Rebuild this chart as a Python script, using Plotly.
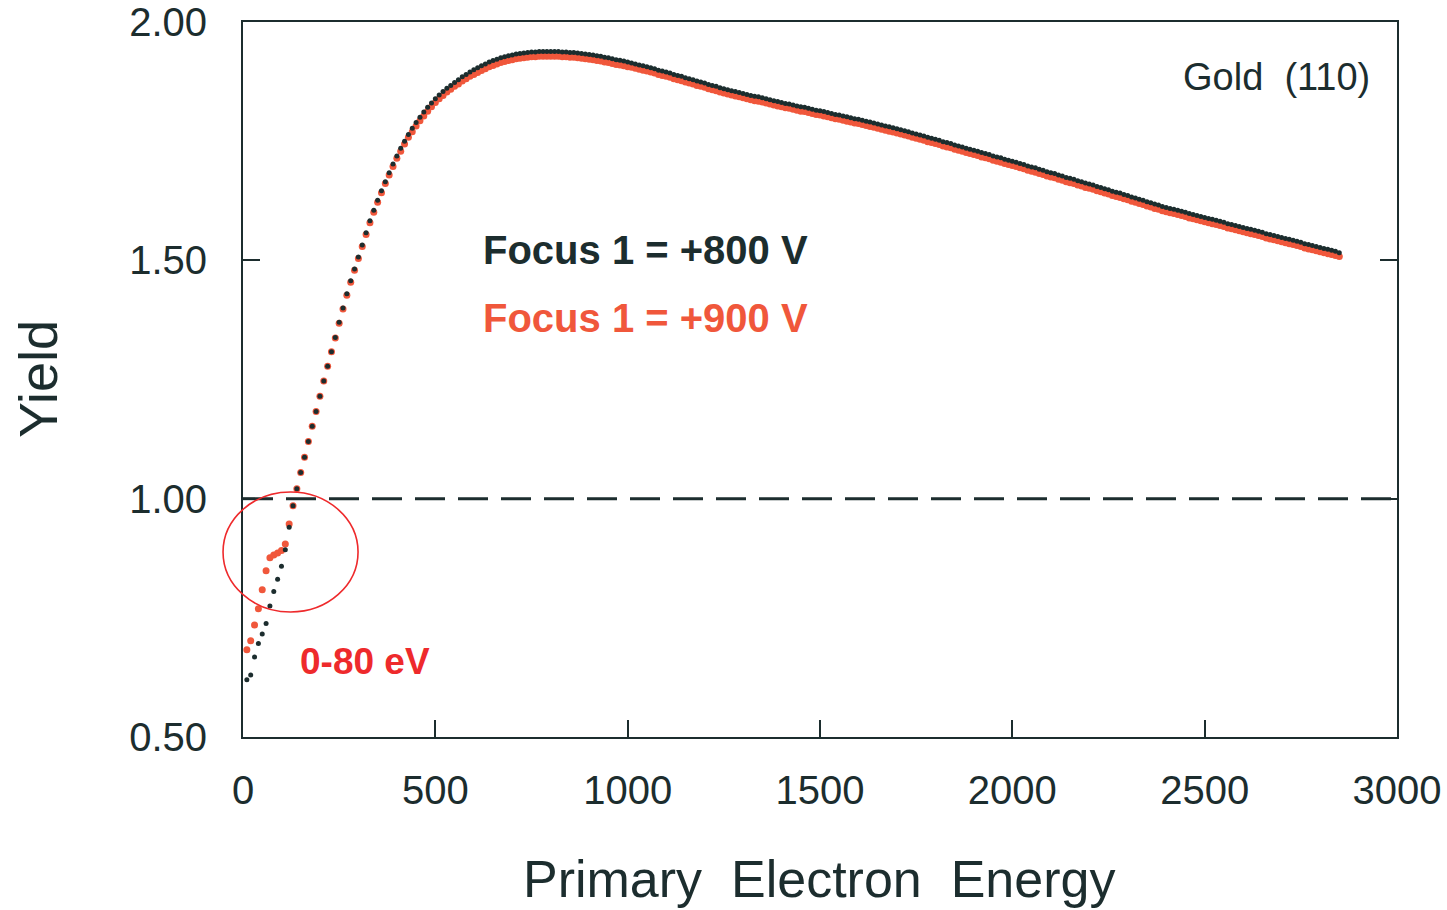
import plotly.graph_objects as go

# Primary electron energy grid (eV), 10 eV steps
energy = list(range(10, 2851, 10))

# Yield with Focus 1 = +800 V
yield_800 = [
    0.620, 0.630, 0.668, 0.696, 0.716, 0.738, 0.775, 0.805, 0.831, 0.858,
    0.893, 0.940, 0.985, 1.021, 1.055, 1.087, 1.120, 1.152, 1.183, 1.215,
    1.247, 1.278, 1.308, 1.338, 1.370, 1.400, 1.430, 1.457, 1.482, 1.507,
    1.532, 1.558, 1.583, 1.605, 1.626, 1.646, 1.665, 1.684, 1.702, 1.719,
    1.735, 1.750, 1.764, 1.777, 1.789, 1.800, 1.811, 1.821, 1.830, 1.839,
    1.847, 1.854, 1.861, 1.867, 1.873, 1.879, 1.885, 1.890, 1.895, 1.900,
    1.904, 1.908, 1.912, 1.916, 1.919, 1.922, 1.925, 1.927, 1.929, 1.931,
    1.933, 1.934, 1.935, 1.936, 1.937, 1.937, 1.938, 1.938, 1.938, 1.938,
    1.938, 1.938, 1.937, 1.937, 1.936, 1.936, 1.935, 1.934, 1.933, 1.932,
    1.931, 1.929, 1.928, 1.926, 1.925, 1.923, 1.921, 1.920, 1.918, 1.916,
    1.914, 1.912, 1.910, 1.908, 1.906, 1.904, 1.902, 1.899, 1.897, 1.895,
    1.893, 1.890, 1.888, 1.886, 1.883, 1.881, 1.879, 1.876, 1.874, 1.872,
    1.869, 1.867, 1.865, 1.862, 1.860, 1.858, 1.856, 1.854, 1.852, 1.850,
    1.848, 1.846, 1.844, 1.843, 1.841, 1.839, 1.837, 1.835, 1.833, 1.831,
    1.829, 1.828, 1.826, 1.824, 1.822, 1.821, 1.819, 1.817, 1.815, 1.814,
    1.812, 1.810, 1.808, 1.806, 1.805, 1.803, 1.801, 1.799, 1.797, 1.796,
    1.794, 1.792, 1.790, 1.788, 1.786, 1.784, 1.782, 1.780, 1.778, 1.776,
    1.774, 1.772, 1.770, 1.767, 1.765, 1.763, 1.761, 1.758, 1.756, 1.754,
    1.752, 1.749, 1.747, 1.745, 1.742, 1.740, 1.738, 1.735, 1.733, 1.731,
    1.729, 1.726, 1.724, 1.722, 1.719, 1.717, 1.715, 1.712, 1.710, 1.708,
    1.706, 1.703, 1.701, 1.698, 1.696, 1.694, 1.691, 1.689, 1.686, 1.684,
    1.682, 1.679, 1.677, 1.674, 1.672, 1.670, 1.667, 1.665, 1.662, 1.660,
    1.658, 1.655, 1.653, 1.650, 1.648, 1.645, 1.643, 1.641, 1.638, 1.636,
    1.633, 1.631, 1.628, 1.626, 1.623, 1.621, 1.618, 1.616, 1.613, 1.611,
    1.609, 1.607, 1.605, 1.603, 1.601, 1.598, 1.596, 1.594, 1.592, 1.590,
    1.588, 1.586, 1.584, 1.582, 1.580, 1.577, 1.575, 1.573, 1.571, 1.569,
    1.567, 1.565, 1.563, 1.561, 1.559, 1.556, 1.554, 1.552, 1.550, 1.548,
    1.546, 1.544, 1.542, 1.540, 1.538, 1.535, 1.533, 1.531, 1.529, 1.527,
    1.525, 1.523, 1.521, 1.519, 1.516,
]

# Yield with Focus 1 = +900 V
yield_900 = [
    0.683, 0.702, 0.735, 0.769, 0.809, 0.849, 0.876, 0.882, 0.886, 0.891,
    0.905, 0.947, 0.985, 1.021, 1.055, 1.087, 1.120, 1.152, 1.183, 1.215,
    1.247, 1.278, 1.308, 1.337, 1.368, 1.398, 1.427, 1.454, 1.479, 1.504,
    1.529, 1.554, 1.579, 1.601, 1.622, 1.642, 1.661, 1.679, 1.697, 1.714,
    1.729, 1.744, 1.758, 1.770, 1.782, 1.793, 1.803, 1.813, 1.822, 1.831,
    1.839, 1.846, 1.853, 1.859, 1.865, 1.870, 1.876, 1.881, 1.886, 1.890,
    1.894, 1.898, 1.902, 1.906, 1.909, 1.912, 1.915, 1.917, 1.919, 1.921,
    1.923, 1.924, 1.925, 1.926, 1.927, 1.927, 1.928, 1.928, 1.928, 1.928,
    1.928, 1.928, 1.927, 1.927, 1.926, 1.926, 1.925, 1.924, 1.923, 1.922,
    1.921, 1.919, 1.918, 1.916, 1.915, 1.913, 1.911, 1.910, 1.908, 1.906,
    1.905, 1.903, 1.901, 1.899, 1.897, 1.895, 1.893, 1.890, 1.888, 1.886,
    1.884, 1.881, 1.879, 1.877, 1.874, 1.872, 1.870, 1.867, 1.865, 1.863,
    1.860, 1.858, 1.856, 1.853, 1.851, 1.849, 1.847, 1.845, 1.843, 1.841,
    1.839, 1.837, 1.835, 1.834, 1.832, 1.830, 1.828, 1.826, 1.824, 1.822,
    1.820, 1.819, 1.817, 1.815, 1.813, 1.812, 1.810, 1.808, 1.806, 1.805,
    1.803, 1.801, 1.799, 1.797, 1.796, 1.794, 1.792, 1.790, 1.788, 1.787,
    1.785, 1.783, 1.781, 1.779, 1.777, 1.775, 1.773, 1.771, 1.769, 1.767,
    1.765, 1.763, 1.761, 1.758, 1.756, 1.754, 1.752, 1.749, 1.747, 1.745,
    1.743, 1.740, 1.738, 1.736, 1.733, 1.731, 1.729, 1.726, 1.724, 1.722,
    1.720, 1.717, 1.715, 1.713, 1.710, 1.708, 1.706, 1.703, 1.701, 1.699,
    1.697, 1.694, 1.692, 1.689, 1.687, 1.685, 1.682, 1.680, 1.677, 1.675,
    1.673, 1.670, 1.668, 1.665, 1.663, 1.661, 1.658, 1.656, 1.653, 1.651,
    1.649, 1.646, 1.644, 1.641, 1.639, 1.636, 1.634, 1.632, 1.629, 1.627,
    1.624, 1.622, 1.619, 1.617, 1.614, 1.612, 1.609, 1.607, 1.604, 1.602,
    1.600, 1.598, 1.596, 1.594, 1.592, 1.589, 1.587, 1.585, 1.583, 1.581,
    1.579, 1.577, 1.575, 1.573, 1.571, 1.568, 1.566, 1.564, 1.562, 1.560,
    1.558, 1.556, 1.554, 1.552, 1.550, 1.547, 1.545, 1.543, 1.541, 1.539,
    1.537, 1.535, 1.533, 1.531, 1.529, 1.526, 1.524, 1.522, 1.520, 1.518,
    1.516, 1.514, 1.512, 1.510, 1.508,
]

x_ticks = [0, 500, 1000, 1500, 2000, 2500, 3000]
y_ticks = [0.50, 1.00, 1.50, 2.00]
y_tick_labels = ["0.50", "1.00", "1.50", "2.00"]

INK = "#1c2d2e"
RED_SERIES = "#f0573b"
RED_NOTE = "#ee2a2c"
FONT = "Liberation Sans, Arial, Helvetica, sans-serif"

fig = go.Figure()

fig.add_trace(go.Scatter(
    x=energy, y=yield_900, mode="markers", name="Focus 1 = +900 V",
    marker=dict(color=RED_SERIES, size=7, line=dict(width=0)),
))
fig.add_trace(go.Scatter(
    x=energy, y=yield_800, mode="markers", name="Focus 1 = +800 V",
    marker=dict(color=INK, size=5, line=dict(width=0)),
))

# unity-yield reference line
fig.add_shape(
    type="line", xref="x", yref="y", x0=0, x1=3000, y0=1.0, y1=1.0,
    line=dict(color=INK, width=3, dash="30px,13px"), layer="below",
)

# ellipse marking the low-energy region
fig.add_shape(
    type="circle", xref="paper", yref="paper",
    x0=-0.0173, x1=0.0997, y0=0.1748, y1=0.3427,
    line=dict(color=RED_NOTE, width=1.6),
)

annotations = [
    dict(text="Gold\u00a0 (110)", x=2935, y=1.884, xref="x", yref="y",
         xanchor="right", yanchor="middle", showarrow=False,
         font=dict(family=FONT, size=38, color=INK)),
    dict(text="<b>Focus 1 = +800 V</b>", x=619, y=1.521, xref="x", yref="y",
         xanchor="left", yanchor="middle", showarrow=False,
         font=dict(family=FONT, size=40, color=INK)),
    dict(text="<b>Focus 1 = +900 V</b>", x=619, y=1.380, xref="x", yref="y",
         xanchor="left", yanchor="middle", showarrow=False,
         font=dict(family=FONT, size=40, color=RED_SERIES)),
    dict(text="<b>0-80 eV</b>", x=143, y=0.658, xref="x", yref="y",
         xanchor="left", yanchor="middle", showarrow=False,
         font=dict(family=FONT, size=37, color=RED_NOTE)),
    dict(text="Primary\u00a0 Electron\u00a0 Energy", x=0.4991, y=-0.1985,
         xref="paper", yref="paper", xanchor="center", yanchor="middle",
         showarrow=False, font=dict(family=FONT, size=52, color=INK)),
    dict(text="Yield", x=-0.1776, y=0.5007, xref="paper", yref="paper",
         xanchor="center", yanchor="middle", textangle=-90,
         showarrow=False, font=dict(family=FONT, size=54, color=INK)),
]

fig.update_layout(
    width=1447, height=910,
    margin=dict(l=243, r=50, t=22, b=173, pad=0, autoexpand=False),
    paper_bgcolor="white", plot_bgcolor="white",
    showlegend=False,
    annotations=annotations,
    font=dict(family=FONT, color=INK),
)

fig.update_xaxes(
    range=[0, 3000], tickvals=x_ticks, ticktext=[str(v) for v in x_ticks],
    ticks="inside", ticklen=17, tickwidth=1.6, tickcolor=INK,
    showline=True, linecolor=INK, linewidth=1.8, mirror=True,
    showgrid=False, zeroline=False, ticklabelstandoff=17, automargin=False,
    tickfont=dict(family=FONT, size=40, color=INK),
)
fig.update_yaxes(
    range=[0.5, 2.0], tickvals=y_ticks, ticktext=y_tick_labels,
    ticks="inside", ticklen=17, tickwidth=1.6, tickcolor=INK,
    showline=True, linecolor=INK, linewidth=1.8, mirror="ticks",
    showgrid=False, zeroline=False, ticklabelstandoff=26, automargin=False,
    tickfont=dict(family=FONT, size=40, color=INK),
)

fig.write_html("out.html")
